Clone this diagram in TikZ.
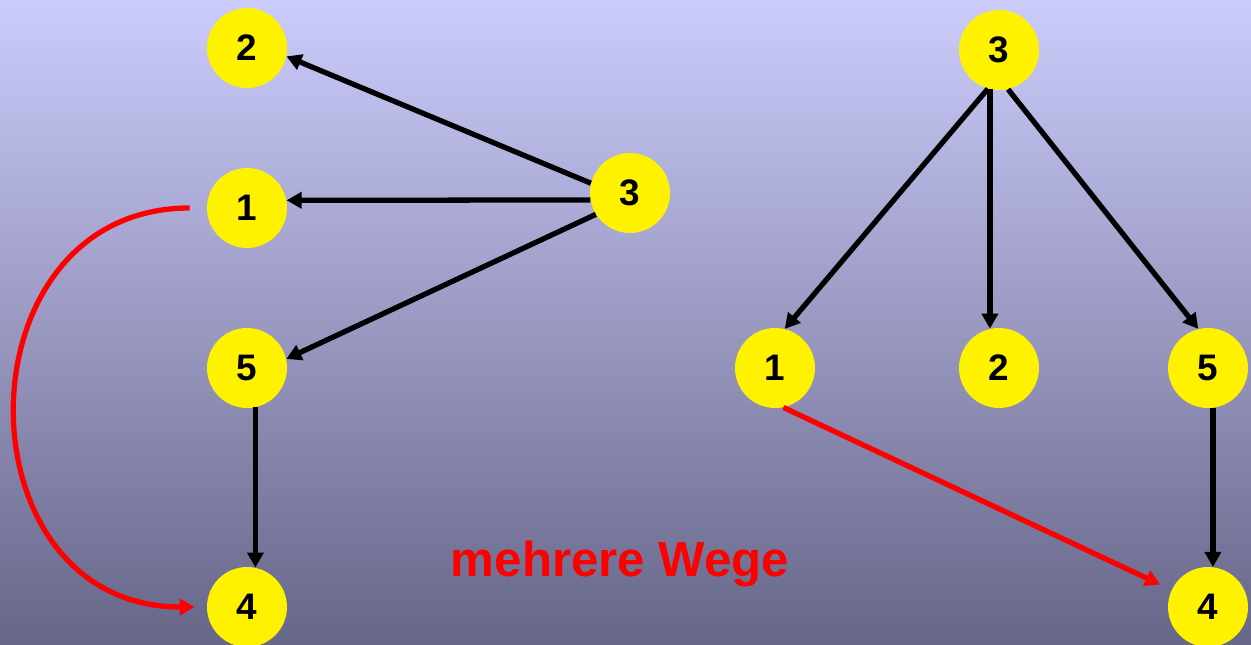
\documentclass[tikz,border=0pt]{standalone}
\usepackage{fontspec}
\setmainfont{Liberation Sans}
\usetikzlibrary{arrows.meta}
\definecolor{bgtop}{RGB}{204,204,252}
\definecolor{bgbot}{RGB}{102,102,136}
\tikzset{
	knoten/.style={circle,fill=yellow,minimum size=1.6cm,inner sep=0pt,font=\fontsize{21}{25}\selectfont\bfseries},
	pfeil/.style={line width=3pt,-{Triangle[length=0.3cm,width=0.32cm]}},
	weg/.style={pfeil,red}
}
\begin{document}
\begin{tikzpicture}[x=0.02cm,y=0.02cm]
		\shade[top color=bgtop,bottom color=bgbot] (0,0) rectangle (1251,645);
		\useasboundingbox (0,0) rectangle (1251,645);
		\begin{scope}
		\foreach \n/\x/\y/\l in {l2/247/597/2,l1/247/437/1,l5/247/277/5,l4/247/38/4,l3/630/452/3}
		{
			\node[knoten] (\n) at (\x,\y) {\l};
		}
		\draw[pfeil] (l3.166) -- (l2.-12);
		\draw[pfeil] (l3.-170) -- (l1.11);
		\draw[pfeil] (l3.212) -- (l5.13);
		\draw[pfeil] (l5.-78) -- (l4.78);
		\draw[weg,shorten <=0.34cm,shorten >=0.24cm] (l1.west) .. controls (-44,437) and (-44,38) .. (l4.west);
		\end{scope}
		\begin{scope}
		\foreach \n/\x/\y/\l in {r3/999/595/3,r1/775/277/1,r2/999/277/2,r5/1208/277/5,r4/1208/38/4}
		{
			\node[knoten] (\n) at (\x,\y) {\l};
		}
		\draw[pfeil] (r3.-106) -- (r1.76);
		\draw[pfeil] (r3.-103) -- (r2.103);
		\draw[pfeil] (r3.-77) -- (r5.104);
		\draw[pfeil] (r5.-83) -- (r4.83);
		\draw[weg,shorten >=0.25cm] (r1.-78) -- (r4);
		\end{scope}
		\node[anchor=base,text=red,font=\fontsize{28}{33}\selectfont\bfseries] (wege) at (620,68) {mehrere Wege};
\end{tikzpicture}
\end{document}
